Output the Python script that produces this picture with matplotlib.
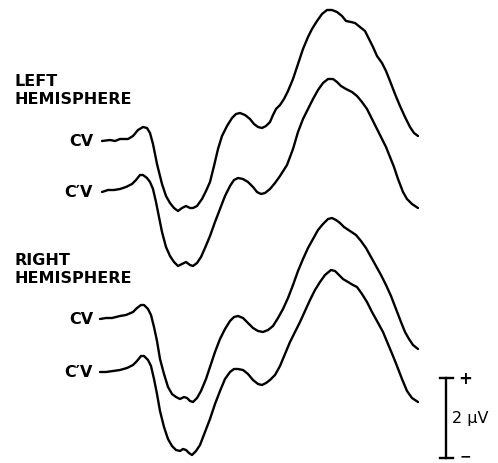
import numpy as np
import matplotlib
matplotlib.use("Agg")
import matplotlib.pyplot as plt

plt.rcParams['font.family'] = ['DejaVu Sans']

# Время, мс, и амплитуда, мкВ (относительно начала кривой)
t_left_cv = [4, 20, 30, 40, 56, 66, 76, 86, 94, 100, 106, 114, 124, 132, 140, 148, 156, 164, 172, 180,
             186, 194, 204, 212, 220, 228, 236, 244, 254, 264, 272, 280, 290, 300, 308, 316, 324, 332, 340, 346,
             352, 360, 368, 376, 386, 396, 406, 416, 424, 434, 444, 454, 464, 474, 484, 492, 502, 510, 520, 530,
             538, 546, 554, 564, 572, 580, 590, 600, 610, 620, 628, 636]
v_left_cv = [0, 0.025, 0, 0.05, 0.05, 0.125, 0.275, 0.35, 0.325, 0.2, -0.075, -0.575, -1.075, -1.375, -1.55,
             -1.675, -1.75, -1.675, -1.625, -1.675, -1.675, -1.625, -1.45, -1.25, -1.025, -0.625, -0.2, 0.125,
             0.375, 0.575, 0.675, 0.7, 0.65, 0.55, 0.425, 0.35, 0.325, 0.375, 0.475, 0.65, 0.8, 0.9, 1.05, 1.25,
             1.55, 1.925, 2.3, 2.6, 2.8, 3.0, 3.175, 3.275, 3.275, 3.225, 3.125, 3.0, 2.975, 2.95, 2.85, 2.75,
             2.55, 2.35, 2.125, 1.95, 1.75, 1.5, 1.175, 0.875, 0.6, 0.35, 0.2, 0.125]

t_left_cpv = [4, 16, 28, 40, 52, 64, 72, 80, 86, 94, 100, 106, 112, 118, 124, 132, 140, 148, 156, 164,
              172, 180, 186, 194, 202, 210, 220, 230, 240, 250, 260, 268, 276, 286, 296, 306, 314, 322, 330, 340,
              350, 360, 374, 386, 396, 406, 416, 426, 436, 446, 456, 466, 474, 482, 492, 504, 514, 524, 534, 544,
              554, 564, 572, 580, 588, 596, 606, 614, 624, 636]
v_left_cpv = [0, 0.05, 0.05, 0.075, 0.125, 0.2, 0.3, 0.425, 0.425, 0.35, 0.25, 0.075, -0.25, -0.625, -1.0,
              -1.375, -1.6, -1.75, -1.85, -1.8, -1.75, -1.825, -1.85, -1.775, -1.625, -1.4, -1.1, -0.75, -0.425,
              -0.1, 0.15, 0.3, 0.35, 0.325, 0.25, 0.125, 0, -0.05, -0.025, 0.075, 0.225, 0.4, 0.675, 1.075, 1.5,
              1.825, 2.075, 2.325, 2.55, 2.725, 2.825, 2.825, 2.75, 2.65, 2.575, 2.5, 2.4, 2.25, 2.075, 1.825,
              1.575, 1.325, 1.125, 0.875, 0.625, 0.325, 0, -0.175, -0.3, -0.4]

t_right_cv = [0, 12, 24, 40, 52, 66, 74, 82, 88, 96, 102, 108, 114, 120, 128, 136, 144, 152, 160, 168,
              174, 180, 186, 194, 202, 212, 220, 230, 240, 250, 260, 268, 276, 286, 296, 306, 316, 326, 336, 346,
              356, 366, 376, 386, 396, 406, 416, 426, 436, 446, 456, 464, 472, 480, 488, 500, 512, 522, 532, 542,
              552, 562, 572, 582, 592, 602, 610, 618, 626, 636]
v_right_cv = [0, 0.025, 0.025, 0.075, 0.1, 0.175, 0.275, 0.35, 0.35, 0.25, 0.1, -0.2, -0.55, -1.0, -1.375,
              -1.7, -1.875, -1.95, -2.0, -1.95, -1.975, -2.05, -2.075, -1.975, -1.8, -1.5, -1.2, -0.825, -0.5,
              -0.25, -0.05, 0.05, 0.075, 0.025, -0.1, -0.225, -0.3, -0.325, -0.275, -0.175, 0.025, 0.25, 0.525,
              0.85, 1.2, 1.5, 1.775, 2.0, 2.225, 2.375, 2.5, 2.525, 2.475, 2.4, 2.3, 2.2, 2.1, 1.95, 1.775, 1.55,
              1.325, 1.1, 0.85, 0.575, 0.25, -0.075, -0.325, -0.5, -0.65, -0.75]

t_right_cpv = [0, 12, 26, 40, 54, 66, 74, 82, 88, 96, 102, 108, 114, 120, 128, 136, 144, 152, 160, 166,
               172, 178, 184, 192, 200, 210, 220, 230, 240, 250, 260, 268, 276, 286, 296, 306, 316, 324, 332, 340,
               350, 360, 370, 380, 390, 400, 410, 420, 430, 440, 450, 462, 470, 478, 486, 496, 506, 514, 524, 534,
               544, 554, 566, 576, 586, 594, 604, 614, 624, 636]
v_right_cpv = [0, 0, 0.025, 0.05, 0.1, 0.175, 0.275, 0.4, 0.4, 0.3, 0.15, -0.175, -0.55, -0.975, -1.375,
               -1.675, -1.85, -1.95, -1.975, -1.925, -1.95, -2.025, -2.075, -1.975, -1.825, -1.5, -1.175, -0.8,
               -0.475, -0.175, 0, 0.075, 0.075, 0.05, -0.05, -0.2, -0.3, -0.325, -0.275, -0.2, -0.075, 0.15, 0.45,
               0.75, 1.0, 1.25, 1.525, 1.8, 2.05, 2.25, 2.425, 2.55, 2.525, 2.425, 2.325, 2.25, 2.175, 2.125,
               1.95, 1.75, 1.5, 1.275, 1.0, 0.7, 0.4, 0.15, -0.175, -0.475, -0.65, -0.75]

traces = [
    (t_left_cv, v_left_cv, 8.05, "CV"),
    (t_left_cpv, v_left_cpv, 6.775, "C\u2032V"),
    (t_right_cv, v_right_cv, 3.6, "CV"),
    (t_right_cpv, v_right_cpv, 2.275, "C\u2032V"),
]

fig = plt.figure(figsize=(4.98, 4.64), dpi=100)
ax = fig.add_axes([0, 0, 1, 1])
ax.set_xlim(-200, 796)
ax.set_ylim(0, 11.6)
ax.axis('off')

for t, v, off, name in traces:
    ax.plot(t, np.array(v) + off, color='black', lw=1.7,
            solid_joinstyle='round', solid_capstyle='round')
    ax.text(-14, off, name, ha='right', va='center', fontsize=11.5, fontweight='semibold')

ax.text(-172, 9.75, "LEFT\nHEMISPHERE", ha='left', va='top', fontsize=11.5,
        fontweight='bold', linespacing=1.25)
ax.text(-172, 5.28, "RIGHT\nHEMISPHERE", ha='left', va='top', fontsize=11.5,
        fontweight='bold', linespacing=1.25)

# Масштаб 2 мкВ
x0, y0 = 692, 0.13
ax.plot([x0, x0], [y0, y0 + 2], color='black', lw=1.7)
ax.plot([x0 - 13, x0 + 13], [y0, y0], color='black', lw=1.7)
ax.plot([x0 - 13, x0 + 13], [y0 + 2, y0 + 2], color='black', lw=1.7)
ax.text(x0 + 38, y0 + 2, "+", ha='center', va='center', fontsize=12, fontweight='bold')
ax.text(x0 + 38, y0 + 0.05, "\u2212", ha='center', va='center', fontsize=10, fontweight='bold')
ax.text(x0 + 12, y0 + 1, "2 \u03bcV", ha='left', va='center', fontsize=11.5)

fig.savefig("out.png", dpi=100)
